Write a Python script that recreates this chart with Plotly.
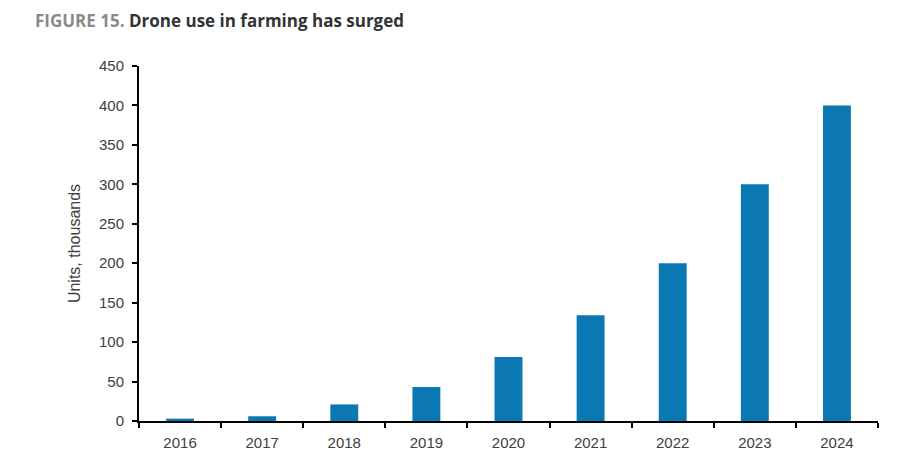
import plotly.graph_objects as go

years = ["2016", "2017", "2018", "2019", "2020", "2021", "2022", "2023", "2024"]
units_thousands = [3, 6, 21, 43, 81, 134, 200, 300, 400]
y_ticks = [0, 50, 100, 150, 200, 250, 300, 350, 400, 450]

BAR_BLUE = "#0b78b3"
TICK_GREY = "#404040"

fig = go.Figure()
fig.add_trace(
    go.Bar(
        x=years,
        y=units_thousands,
        marker={"color": BAR_BLUE, "line": {"width": 0}},
        width=0.34,
        hovertemplate="%{x}: %{y}k units<extra></extra>",
    )
)

# page renders with an 8px body offset, so margins are shifted to compensate
fig.update_layout(
    width=922,
    height=462,
    paper_bgcolor="white",
    plot_bgcolor="white",
    showlegend=False,
    margin={"l": 131, "r": 52, "t": 58, "b": 49},
    title={
        "text": "<span style='color:#8a8a8a'>FIGURE 15.</span> Drone use in farming has surged",
        "x": 27 / 922,
        "xanchor": "left",
        "y": 1 - 13 / 462,
        "yanchor": "middle",
        "font": {"family": "Open Sans", "size": 17, "color": "#333333", "weight": "bold"},
    },
    font={"family": "Liberation Sans", "size": 15, "color": TICK_GREY},
)

fig.update_xaxes(
    type="category",
    range=[-0.5, 8.5],
    showline=True,
    linecolor="black",
    linewidth=2,
    ticks="outside",
    tickson="boundaries",
    ticklen=5,
    tickwidth=2,
    tickcolor="black",
    showgrid=False,
    ticklabelstandoff=7,
    tickfont={"size": 15, "color": TICK_GREY},
)
fig.update_yaxes(
    range=[0, 450],
    tickvals=y_ticks,
    showline=True,
    linecolor="black",
    linewidth=2,
    ticks="outside",
    ticklen=5,
    tickwidth=2,
    tickcolor="black",
    showgrid=False,
    zeroline=False,
    ticklabelstandoff=5,
    tickfont={"size": 15, "color": TICK_GREY},
    title={"text": "Units, thousands", "font": {"size": 16, "color": TICK_GREY}, "standoff": 14},
)

fig.write_html("out.html")
